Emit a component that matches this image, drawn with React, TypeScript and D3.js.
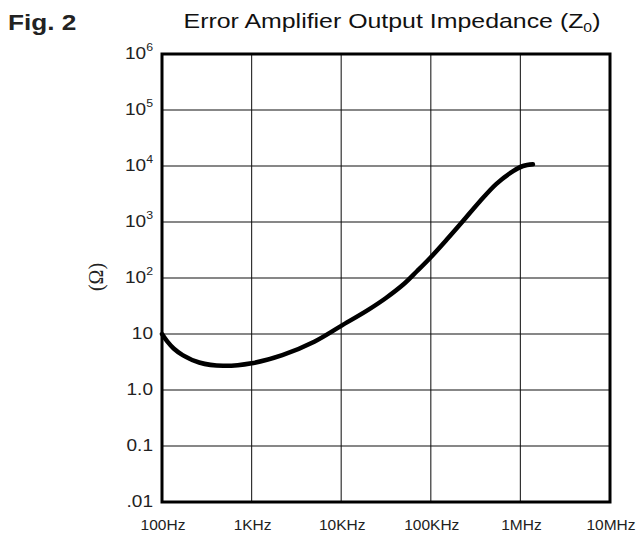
import React from "react";
import * as d3 from "d3";

// curve (Hz, ohms)
const freqHz = [100, 115, 135, 170, 260, 480, 1000, 2200, 5000, 10000, 20000, 31600, 50000, 70000, 100000, 150000, 230000, 350000, 540000, 830000, 1070000, 1380000];
const impedanceOhm = [10, 7.3, 5.5, 4.2, 3.1, 2.7, 3.0, 4.2, 7.3, 14, 27, 44, 78, 132, 235, 480, 1050, 2300, 4800, 8100, 10000, 10700];

const xTicks = [100, 1e3, 1e4, 1e5, 1e6, 1e7];
const xTickLabels = ["100Hz", "1KHz", "10KHz", "100KHz", "1MHz", "10MHz"];

const yTicks = [1e6, 1e5, 1e4, 1e3, 1e2, 10, 1, 0.1, 0.01];
const yTickBase = ["10", "10", "10", "10", "10", "10", "1.0", "0.1", ".01"];
const yTickExp = ["6", "5", "4", "3", "2", "", "", "", ""];

const W = 637, H = 540;
const left = 162, right = 610, top = 54, bottom = 502;

const App = () => {
    const x = d3.scaleLog().domain([100, 1e7]).range([left, right]);
    const y = d3.scaleLog().domain([0.01, 1e6]).range([bottom, top]);

    const line = d3.line<number>()
        .x((d, i) => x(freqHz[i]))
        .y((d) => y(d))
        .curve(d3.curveCatmullRom.alpha(0.5));

    const sans = "'Liberation Sans', Arial, sans-serif";

    return (
        <div style={{ position: "absolute", left: 0, top: 0 }}>
            <svg width={W} height={H} style={{ display: "block", background: "#fff" }}>
                {/* titles */}
                <g transform="translate(8,30) scale(1.19,1)">
                    <text fontFamily={sans} fontWeight="bold" fontSize={22} fill="#222">Fig. 2</text>
                </g>
                <g transform="translate(392,28) scale(1.215,1)">
                    <text fontFamily={sans} fontSize={20.5} textAnchor="middle" fill="#111">
                        Error Amplifier Output Impedance (Z<tspan fontSize={13} dy={4}>0</tspan><tspan dy={-4}>)</tspan>
                    </text>
                </g>

                {/* grid */}
                {xTicks.slice(1, -1).map((t) => (
                    <line key={"gx" + t} x1={x(t)} x2={x(t)} y1={top} y2={bottom} stroke="#333" strokeWidth={1.2} />
                ))}
                {yTicks.slice(1, -1).map((t) => (
                    <line key={"gy" + t} x1={left} x2={right} y1={y(t)} y2={y(t)} stroke="#111" strokeWidth={1.2} />
                ))}
                <rect x={left} y={top} width={right - left} height={bottom - top} fill="none" stroke="#000" strokeWidth={3} />

                {/* curve */}
                <path d={line(impedanceOhm) || ""} fill="none" stroke="#000" strokeWidth={4.5} strokeLinecap="round" strokeLinejoin="round" />

                {/* y labels */}
                {yTicks.map((t, i) => (
                    <g key={"yl" + t} transform={`translate(153,${y(t) + 5}) scale(1.12,1)`}>
                        <text fontFamily={sans} fontSize={17} textAnchor="end" fill="#222">
                            {yTickBase[i]}
                            {yTickExp[i] && <tspan fontSize={11} dy={-8}>{yTickExp[i]}</tspan>}
                        </text>
                    </g>
                ))}

                {/* x labels */}
                {xTicks.map((t, i) => (
                    <g key={"xl" + t} transform={`translate(${x(t) + 1},530)`}>
                        <text fontFamily={sans} fontSize={15.5} textAnchor="middle" fill="#222">{xTickLabels[i]}</text>
                    </g>
                ))}

                {/* axis unit */}
                <text transform="translate(103,277) rotate(-90)" fontFamily="'Liberation Serif', 'Times New Roman', serif" fontSize={20} textAnchor="middle" fill="#222">(Ω)</text>
            </svg>
        </div>
    );
};

export default App;
